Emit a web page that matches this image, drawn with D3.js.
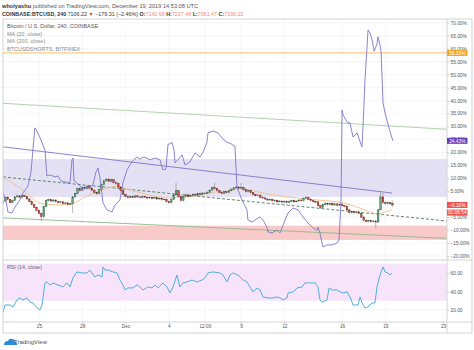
<!DOCTYPE html>
<html><head><meta charset="utf-8">
<script src="https://cdn.jsdelivr.net/npm/d3@7"></script>
<style>
body{margin:0;background:#fff}
svg{display:block;font-family:"Liberation Sans",Arial,sans-serif}
</style></head><body>
<svg id="c" width="474" height="350"></svg>
<script>
// ---------- DATA (percent vs. first visible bar; time = days since 25 Nov 2019) ----------
const firstOpen = 0.5;
const closes = [1.2,2.6,1.8,0.6,1.5,2.8,3.2,2.7,3.4,2.9,
2.0,1.0,-0.2,-1.2,-2.4,-3.6,-4.8,-1.0,1.4,1.8,
1.2,1.6,1.0,0.6,0.9,0.2,0.5,-0.1,0.2,2.8,
4.0,6.0,5.3,6.5,6.0,6.8,6.2,5.4,4.5,4.0,
5.6,7.6,9.0,9.6,8.8,9.4,8.3,8.0,6.6,5.2,
3.8,3.0,2.6,3.0,2.6,3.2,2.8,2.5,3.0,2.7,
2.4,2.6,2.2,2.5,2.0,2.3,1.8,1.9,1.0,0.6,
1.8,3.6,5.2,3.0,1.4,3.0,3.6,3.0,3.4,3.8,
3.5,4.0,3.8,4.3,4.1,4.6,5.4,6.4,6.0,5.3,
4.6,4.2,4.8,4.5,5.2,5.8,6.3,6.6,6.2,6.5,
5.6,4.9,5.2,4.4,3.8,3.3,3.5,2.6,2.4,2.0,
1.6,1.9,1.3,1.5,0.9,1.2,0.8,1.1,0.7,1.0,
1.4,0.9,1.2,1.6,1.3,2.3,2.6,1.8,1.4,1.0,
0.9,-0.6,-1.3,-0.2,0.3,-0.1,0.3,-0.3,0.1,-0.4,
0.0,-0.6,-0.9,-2.2,-3.2,-2.9,-3.3,-3.0,-3.5,-5.0,
-6.2,-6.6,-6.3,-6.8,-6.5,-6.9,-2.2,2.8,0.6,0.2,
0.6,0.19,-0.32];
const highs = [1.6,3.0,2.9,2.0,1.9,3.1,3.7,3.5,3.8,3.6,
3.1,2.3,1.3,0.1,-0.9,-2.0,-3.2,-0.6,1.8,2.3,
2.1,2.0,1.9,1.3,1.3,1.2,0.9,0.8,0.6,3.1,
4.5,6.5,6.4,7.0,6.9,7.3,7.1,6.5,5.7,4.8,
6.0,8.0,9.5,10.2,10.0,9.9,9.7,8.7,8.3,6.9,
5.5,4.1,3.4,3.5,3.3,3.6,3.5,3.1,3.4,3.3,
3.0,3.0,2.9,2.9,2.8,2.7,2.6,2.3,2.2,1.3,
2.2,4.0,8.2,5.5,3.3,3.4,4.0,3.9,3.8,4.2,
4.1,4.4,4.3,4.7,4.6,5.0,5.8,6.8,8.2,6.3,
5.6,4.9,5.2,5.1,5.6,6.2,6.7,7.0,7.0,8.2,
6.8,5.9,5.6,5.5,4.7,4.1,3.9,3.8,2.9,2.7,
2.3,2.3,2.2,1.9,1.8,1.6,1.5,1.5,1.4,1.4,
1.8,1.7,1.6,2.0,1.9,2.7,3.1,2.9,2.1,1.7,
1.3,1.2,-0.3,0.2,0.7,0.6,0.7,0.6,0.5,0.4,
0.4,0.3,-0.3,-0.6,-1.9,-2.5,-2.5,-2.6,-2.7,-3.2,
-4.7,-5.8,-5.9,-6.0,-6.1,-6.1,-1.8,4.7,4.3,1.0,
1.0,0.9,1.38];
const lows = [0.1,0.9,1.4,0.2,0.3,1.2,2.5,2.3,2.4,2.6,
1.7,0.7,-0.6,-1.6,-2.8,-4.2,-6.5,-5.2,-1.3,1.0,
0.8,0.9,0.6,0.2,0.3,-0.2,-0.1,-0.5,-0.5,-3.4,
2.5,3.7,4.9,5.0,5.6,5.7,5.8,5.0,4.1,3.5,
3.7,5.3,7.3,8.7,8.4,8.5,8.0,7.6,6.2,4.8,
3.4,2.5,2.0,2.3,2.2,2.3,2.4,2.1,2.2,2.3,
2.0,2.1,1.8,1.9,1.6,1.7,1.4,1.5,0.6,0.1,
0.3,1.5,3.3,2.6,1.0,1.1,2.7,2.6,2.7,3.1,
3.1,3.2,3.4,3.5,3.8,3.8,4.3,5.1,5.6,4.9,
4.2,3.8,3.9,4.1,4.2,4.9,5.5,6.0,5.8,5.9,
5.2,4.5,4.6,4.0,3.4,2.9,3.0,2.2,2.0,1.6,
1.2,1.3,0.9,1.0,0.5,0.6,0.4,0.5,0.3,0.4,
0.7,0.5,0.6,0.9,1.0,1.0,2.0,1.5,1.0,0.6,
0.5,-1.0,-1.8,-1.6,-0.5,-0.5,-0.4,-0.7,-0.6,-0.8,
-0.7,-1.0,-1.3,-2.6,-3.7,-3.6,-3.7,-3.7,-3.9,-5.4,
-6.7,-7.1,-7.0,-7.2,-7.1,-9.2,-7.2,-2.5,0.2,-0.2,
-0.1,-0.4,-0.95];
const barStartDay = -2.5;      // 22 Nov 12:00 UTC, 4h bars
const barsPerDay = 6;

const shortsT = [-2.49,-2.29,-2.15,-1.87,-1.66,-1.32,-1.11,-0.76,-0.55,-0.42,-0.28,-0.14,0.14,0.28,0.42,0.55,0.76,1.11,1.32,1.52,
1.80,2.15,2.29,2.36,2.43,2.63,3.05,3.40,3.74,3.95,4.09,4.23,4.44,4.71,5.06,5.27,5.61,5.82,6.10,6.44,
6.79,7.00,7.21,7.48,7.69,8.04,8.39,8.59,8.80,8.94,9.22,9.36,9.42,9.63,9.91,10.12,10.46,10.81,11.16,11.37,
11.64,11.71,12.06,12.40,12.68,13.03,13.24,13.44,13.58,13.72,14.07,14.41,14.48,14.76,14.97,15.32,15.52,15.80,15.87,16.15,
16.49,16.70,16.84,17.05,17.26,17.60,17.95,18.30,18.64,18.99,19.27,19.33,19.47,19.61,19.68,19.96,20.31,20.65,20.79,20.93,
21.00,21.07,21.35,21.55,21.76,22.04,22.25,22.38,22.45,22.59,22.73,22.80,22.94,23.08,23.22,23.42,23.49,23.63,23.70,23.84,
23.98,24.19,24.46,24.53];
const shortsV = [4.3,1.6,-3.0,-3.4,-1.1,1.6,4.3,7.0,12.4,20.9,29.4,28.2,24.8,22.8,20.9,10.9,11.3,10.5,10.9,9.0,
8.6,8.2,17.1,17.8,9.0,8.2,5.9,6.3,7.4,12.4,14.0,10.1,0.5,-2.2,-3.0,-0.3,1.6,8.2,13.2,16.3,
18.2,17.4,18.2,17.8,17.1,17.8,17.1,13.2,13.6,23.0,23.8,21.0,15.9,17.1,19.0,15.1,16.3,19.8,18.2,20.1,
23.8,27.5,28.2,27.5,25.5,23.8,23.5,22.8,22.3,6.6,1.6,-2.2,-6.1,-6.9,-6.1,-4.9,-6.1,-8.9,-10.7,-11.1,
-10.0,-11.1,-9.2,-6.1,-3.4,-1.5,-2.2,-4.9,-7.3,-9.2,-10.0,-8.9,-11.1,-15.0,-16.5,-15.7,-15.7,-15.0,-13.8,1.6,
36.3,34.4,31.7,31.3,25.9,27.5,24.0,22.1,29.8,47.9,60.6,67.2,66.0,63.3,59.0,61.8,64.6,61.4,59.0,39.0,
35.2,30.6,25.5,24.43];

const ma20T = [-2.49,-1.32,0.28,1.46,2.29,3.19,4.23,5.41,6.31,7.69,9.08,10.12,11.16,12.20,13.24,13.93,15.52,17.19,19.27,21.07,22.04,22.94,23.42,23.98,24.46];
const ma20V = [10.5,6.3,0.1,-0.3,0.1,2.8,5.1,7.0,5.5,3.5,2.4,2.8,3.5,4.7,5.1,5.9,4.3,2.8,1.6,0.5,-1.1,-3.0,-3.8,-3.0,-2.2];

const rsiT = [-2.49,-2.35,-2.01,-1.80,-1.52,-1.32,-1.11,-0.83,-0.62,-0.42,-0.14,0.07,0.21,0.42,0.55,0.76,0.97,1.32,1.66,1.94,
2.15,2.36,2.63,2.98,3.33,3.53,3.67,3.88,4.09,4.37,4.44,4.57,4.78,5.13,5.41,5.61,5.82,5.96,6.17,6.51,
6.79,7.00,7.21,7.55,7.83,8.04,8.25,8.59,8.87,9.08,9.29,9.56,9.77,9.98,10.26,10.60,10.95,11.30,11.50,11.71,
12.06,12.54,12.75,13.03,13.24,13.44,13.79,14.14,14.41,14.62,14.83,15.11,15.32,15.52,15.87,16.22,16.49,16.70,16.91,17.19,
17.26,17.60,17.88,18.23,18.43,18.78,19.13,19.33,19.47,19.61,19.96,20.10,20.31,20.65,20.86,21.07,21.35,21.55,21.76,22.11,
22.25,22.38,22.59,22.80,23.08,23.28,23.42,23.63,23.84,23.98,24.19,24.32,24.46];
const rsiV = [17.8,25.4,25.4,23.2,30.8,33.0,30.8,33.0,28.6,27.6,22.2,20.0,25.4,49.2,50.3,47.0,49.2,47.0,44.9,49.2,
44.9,54.6,61.1,60.0,60.0,63.2,60.0,55.7,57.8,55.7,66.5,63.2,63.2,61.1,60.0,52.4,47.0,41.6,43.8,43.8,
47.0,44.9,41.6,44.9,43.8,47.0,43.8,49.2,44.9,38.4,44.9,57.8,44.9,49.2,50.3,52.4,50.3,52.4,54.6,60.0,
61.1,60.0,57.8,50.3,57.8,60.0,57.8,52.4,50.3,44.9,39.5,43.8,41.6,34.1,33.0,33.0,34.1,33.0,30.8,33.0,
38.4,39.5,43.8,44.9,49.2,49.2,49.2,44.9,30.8,28.6,30.8,43.8,41.6,41.6,39.5,38.4,39.5,34.1,25.4,25.4,
34.1,27.6,22.2,23.2,27.6,27.6,44.9,57.8,66.5,61.1,60.0,57.8,60.0];

// drawings (day, percent)
const greenUpper = [[-2.49,38.9],[28.27,28.9]];
const greenLower = [[-2.49,-5.3],[28.27,-13.2]];
const purpleTrend = [[-2.49,22.1],[24.46,4.3]];
const dashedTrend = [[-2.49,10.5],[28.27,-6.5]];
const lavenderZone = [17.4, 2.8];
const pinkZone = [-8.3, -13.8];
const orangeLevel = 58.33;

const pctTicks = [-20,-15,-10,-5,0,5,10,15,20,25,30,35,40,45,50,55,60,65,70];
const rsiTicks = [20,40,60];
const rsiBand = [30,70];
const timeTicks = [0,3,6,9,11.5,14,17,21,24,28];
const timeLabels = ["25","28","Dec","4","12:00","9","12","16","19","23"];

const legendLines = ["Bitcoin / U.S. Dollar, 240, COINBASE","MA (20, close)","MA (200, close)","BTCUSDSHORTS, BITFINEX"];

// ---------- LAYOUT ----------
const svg = d3.select("#c");
const L=3, R=447, RR=472, T=19, MB=260, RB=322, AB=333;
const day0 = Date.UTC(2019,10,25);
const toDate = d => new Date(day0 + d*864e5);
const x = d3.scaleUtc().domain([toDate(-2.49), toDate(28.27)]).range([L,R]);
const y = d3.scaleLinear().domain([-21.54,71.43]).range([MB,T]);
const yr = d3.scaleLinear().domain([7,74]).range([RB,MB]);

const defs = svg.append("defs");
defs.append("clipPath").attr("id","cm").append("rect").attr("x",L).attr("y",T).attr("width",R-L).attr("height",MB-T);
defs.append("clipPath").attr("id","cr").append("rect").attr("x",L).attr("y",MB).attr("width",R-L).attr("height",RB-MB);

// fit a text element's font size to a target width
const fit = (sel, w) => { const n = sel.node(); const fs = +sel.attr("font-size"); sel.attr("font-size", fs * w / n.getComputedTextLength()); };

// ---------- HEADER ----------
const h1 = svg.append("text").attr("x",2).attr("y",7.8).attr("font-size",5.6).attr("fill","#555");
h1.append("tspan").attr("font-weight","bold").attr("fill","#333").text("wholyashu");
h1.append("tspan").text(" published on TradingView.com, December 19, 2019 14:53:08 UTC");
fit(h1, 196);
const h2 = svg.append("text").attr("x",2).attr("y",15.6).attr("font-size",5).attr("fill","#333");
h2.append("tspan").attr("font-weight","bold").text("COINBASE:BTCUSD, 240");
h2.append("tspan").text("  7106.22 ");
h2.append("tspan").attr("fill","#e0483c").text("▼");
h2.append("tspan").text(" −179.31 (−2.46%) ");
[["O:","7142.68"],["H:","7227.48"],["L:","7061.47"],["C:","7106.22"]].forEach(([k,v])=>{
  h2.append("tspan").attr("font-weight","bold").text(" "+k);
  h2.append("tspan").attr("fill","#ef8a80").text(v);
});
fit(h2, 242);

// ---------- GRID ----------
const grid = svg.append("g").attr("stroke","#eef0f4").attr("stroke-width",0.6);
pctTicks.forEach(v=>grid.append("line").attr("x1",L).attr("x2",R).attr("y1",y(v)).attr("y2",y(v)));
timeTicks.forEach(d=>grid.append("line").attr("x1",x(toDate(d))).attr("x2",x(toDate(d))).attr("y1",T).attr("y2",RB));
rsiTicks.forEach(v=>grid.append("line").attr("x1",L).attr("x2",R).attr("y1",yr(v)).attr("y2",yr(v)));

// ---------- MAIN PANE ----------
const m = svg.append("g").attr("clip-path","url(#cm)");
m.append("rect").attr("x",L).attr("width",R-L).attr("y",y(lavenderZone[0])).attr("height",y(lavenderZone[1])-y(lavenderZone[0])).attr("fill","#e4e1f5");
m.append("rect").attr("x",L).attr("width",R-L).attr("y",y(pinkZone[0])).attr("height",y(pinkZone[1])-y(pinkZone[0])).attr("fill","#f9caca");
m.append("line").attr("x1",L).attr("x2",R).attr("y1",y(orangeLevel)).attr("y2",y(orangeLevel)).attr("stroke","#f6c054").attr("stroke-width",1);

const seg = (pts,col,w,dash)=>m.append("line")
  .attr("x1",x(toDate(pts[0][0]))).attr("y1",y(pts[0][1]))
  .attr("x2",x(toDate(pts[1][0]))).attr("y2",y(pts[1][1]))
  .attr("stroke",col).attr("stroke-width",w).attr("stroke-dasharray",dash||null);
seg(greenUpper,"#a7cf9f",0.9);
seg(greenLower,"#8fb98a",0.9);
seg(purpleTrend,"#7f74c9",0.9);
seg(dashedTrend,"#4d7a60",0.9,"3,2");

// MA 20
const ln = d3.line().x(d=>x(toDate(d[0]))).y(d=>y(d[1])).curve(d3.curveMonotoneX);
m.append("path").attr("d",ln(ma20T.map((t,i)=>[t,ma20V[i]]))).attr("fill","none").attr("stroke","#f2c08a").attr("stroke-width",0.9);

// candles
const cg = m.append("g");
closes.forEach((c,i)=>{
  const o = i===0 ? firstOpen : closes[i-1];
  const up = c>=o;
  const cx = x(toDate(barStartDay + i/barsPerDay));
  cg.append("line").attr("x1",cx).attr("x2",cx).attr("y1",y(highs[i])).attr("y2",y(lows[i])).attr("stroke","#737375").attr("stroke-width",0.5);
  const yt = y(Math.max(o,c)), yb = y(Math.min(o,c));
  cg.append("rect").attr("x",cx-0.8).attr("width",1.6).attr("y",yt).attr("height",Math.max(0.6,yb-yt))
    .attr("fill",up?"#6ba583":"#d75442").attr("stroke",up?"#225437":"#5b1a13").attr("stroke-width",0.4);
});

// BTCUSDSHORTS
m.append("path").attr("d",d3.line().x(d=>x(toDate(d[0]))).y(d=>y(d[1]))(shortsT.map((t,i)=>[t,shortsV[i]])))
  .attr("fill","none").attr("stroke","#7d76c8").attr("stroke-width",0.9);

// legend
const lg = svg.append("g").attr("font-size",5.5);
legendLines.forEach((s,i)=>lg.append("text").attr("x",7).attr("y",28+i*7.6).attr("fill",i===0?"#555":"#8a8a8a").text(s));

// ---------- RSI PANE ----------
const r = svg.append("g").attr("clip-path","url(#cr)");
r.append("rect").attr("x",L).attr("width",R-L).attr("y",yr(rsiBand[1])).attr("height",yr(rsiBand[0])-yr(rsiBand[1])).attr("fill","#f7e4fa");
r.append("path").attr("d",d3.line().x(d=>x(toDate(d[0]))).y(d=>yr(d[1]))(rsiT.map((t,i)=>[t,rsiV[i]])))
  .attr("fill","none").attr("stroke","#3ea7d6").attr("stroke-width",0.9);
svg.append("text").attr("x",7).attr("y",268.7).attr("font-size",5.3).attr("fill","#666").text("RSI (14, close)");

// ---------- AXES ----------
const fmtPct = v => (v<0?"−":"") + Math.abs(v).toFixed(2) + "%";
const ay = svg.append("g").attr("transform",`translate(${R},0)`)
  .call(d3.axisRight(y).tickValues(pctTicks).tickFormat(fmtPct).tickSize(2).tickPadding(1.5));
const ar = svg.append("g").attr("transform",`translate(${R},0)`)
  .call(d3.axisRight(yr).tickValues(rsiTicks).tickFormat(d3.format(".2f")).tickSize(2).tickPadding(1.5));
const ax = svg.append("g").attr("transform",`translate(0,${RB})`)
  .call(d3.axisBottom(x).tickValues(timeTicks.map(toDate)).tickFormat((d,i)=>timeLabels[i]).tickSize(2).tickPadding(1));
[ay,ar,ax].forEach(g=>{
  g.select(".domain").remove();
  g.selectAll("line").attr("stroke","#9a9a9a").attr("stroke-width",0.5);
  g.selectAll("text").attr("font-size",4.8).attr("fill","#555").attr("font-family","Liberation Sans, Arial, sans-serif");
});

// frame
const fr = svg.append("g").attr("stroke","#c9c9c9").attr("stroke-width",0.8).attr("fill","none");
fr.append("rect").attr("x",L).attr("y",T).attr("width",RR-L).attr("height",AB-T);
fr.append("line").attr("x1",R).attr("x2",R).attr("y1",T).attr("y2",AB);
fr.append("line").attr("x1",L).attr("x2",RR).attr("y1",MB).attr("y2",MB);
fr.append("line").attr("x1",L).attr("x2",RR).attr("y1",RB).attr("y2",RB);

// price-scale labels
const tag = (yy,txt,bg)=>{
  svg.append("rect").attr("x",R).attr("y",yy-3).attr("width",20.5).attr("height",6).attr("fill",bg);
  svg.append("text").attr("x",R+10.3).attr("y",yy+1.7).attr("text-anchor","middle").attr("font-size",4.8).attr("fill","#fff").text(txt);
};
tag(y(orangeLevel),fmtPct(orangeLevel),"#f5a623");
tag(y(shortsV[shortsV.length-1]),fmtPct(shortsV[shortsV.length-1]),"#6a3fb5");
tag(y(closes[closes.length-1]),fmtPct(closes[closes.length-1]),"#ef5350");
tag(y(closes[closes.length-1])+7.6,"01:06:54","#ef5350");

// logo
const lo = svg.append("g");
lo.append("path").attr("d","M4,345 q0,-4 4,-4 q1,-3 4,-2 q3,0 3,3 q2,0 2,2 l0,1 z").attr("fill","#2f8ad8");
lo.append("text").attr("x",14).attr("y",344.3).attr("font-size",6).attr("fill","#4a4f5a").text("TradingView");
</script>
</body></html>
